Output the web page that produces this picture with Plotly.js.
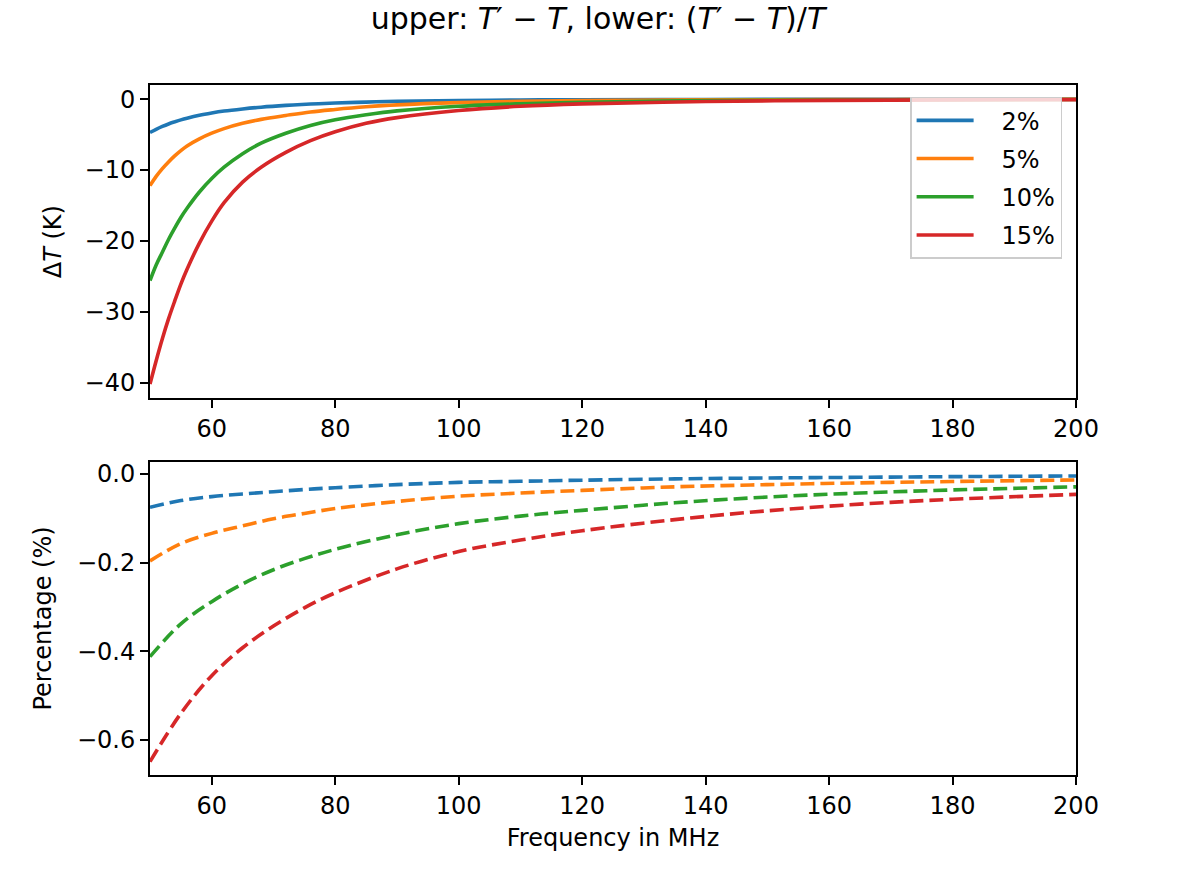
<!DOCTYPE html>
<html>
<head>
<meta charset="utf-8">
<script src="https://cdn.plot.ly/plotly-3.0.1.min.js"></script>
<style>
  body { margin: 0; background: #fff; }
  #chart { width: 1196px; height: 874px; }
</style>
</head>
<body>
<div id="chart"></div>
<script>
// values
let labels = ['2%', '5%', '10%', '15%'];
let colors = ['#1f77b4', '#ff7f0e', '#2ca02c', '#d62728'];

// upper panel: T' - T in K
let freqUpper = [50, 51, 52, 53, 54, 55, 56, 58, 60, 62, 65, 68, 72, 76, 80, 85, 90, 100, 110, 120, 140, 160, 180, 200];
let dT2  = [-4.7, -4.25, -3.85, -3.5, -3.2, -2.92, -2.68, -2.27, -1.95, -1.68, -1.38, -1.13, -0.88, -0.69, -0.55, -0.41, -0.31, -0.18, -0.12, -0.08, -0.04, -0.02, -0.012, -0.008];
let dT5  = [-12.2, -10.9, -9.8, -8.85, -8.0, -7.25, -6.6, -5.6, -4.8, -4.15, -3.4, -2.85, -2.3, -1.8, -1.45, -1.08, -0.8, -0.48, -0.31, -0.2, -0.1, -0.055, -0.03, -0.02];
let dT10 = [-25.6, -23.4, -21.6, -19.8, -18.2, -16.7, -15.4, -13.1, -11.2, -9.6, -7.7, -6.2, -4.8, -3.7, -2.9, -2.2, -1.65, -1.0, -0.65, -0.43, -0.21, -0.11, -0.065, -0.04];
let dT15 = [-40.2, -36.9, -33.8, -31.0, -28.5, -26.1, -24.0, -20.3, -17.2, -14.6, -11.7, -9.6, -7.5, -5.85, -4.6, -3.4, -2.6, -1.6, -1.0, -0.67, -0.33, -0.17, -0.1, -0.06];

// lower panel: (T' - T)/T
let freqLower = [50, 55, 60, 65, 70, 75, 80, 90, 100, 110, 120, 135, 150, 165, 180, 200];
let pct2  = [-0.075, -0.060, -0.051, -0.045, -0.040, -0.035, -0.031, -0.024, -0.019, -0.0165, -0.014, -0.011, -0.009, -0.0075, -0.006, -0.0045];
let pct5  = [-0.196, -0.157, -0.134, -0.117, -0.101, -0.089, -0.078, -0.062, -0.050, -0.043, -0.037, -0.029, -0.024, -0.020, -0.017, -0.0135];
let pct10 = [-0.412, -0.338, -0.288, -0.248, -0.216, -0.191, -0.170, -0.137, -0.112, -0.095, -0.082, -0.065, -0.052, -0.043, -0.036, -0.029];
let pct15 = [-0.649, -0.540, -0.455, -0.392, -0.343, -0.302, -0.268, -0.214, -0.175, -0.149, -0.128, -0.103, -0.083, -0.068, -0.057, -0.046];

let upperSeries = [dT2, dT5, dT10, dT15];
let lowerSeries = [pct2, pct5, pct10, pct15];

let traces = [];
upperSeries.forEach((ys, i) => {
    traces.push({
        type: 'scatter', mode: 'lines',
        x: freqUpper, y: ys, name: '\u00a0\u00a0\u00a0' + labels[i],
        legendgroup: 'g' + i,
        line: {color: colors[i], width: 3.6, shape: 'spline', smoothing: 1},
        xaxis: 'x', yaxis: 'y'
    });
});
lowerSeries.forEach((ys, i) => {
    traces.push({
        type: 'scatter', mode: 'lines',
        x: freqLower, y: ys, name: labels[i],
        showlegend: false,
        line: {color: colors[i], width: 3.6, shape: 'spline', smoothing: 1, dash: '14px,6px'},
        xaxis: 'x2', yaxis: 'y2'
    });
});

let axisStyle = {
    showline: true, linecolor: 'black', linewidth: 2, mirror: true,
    ticks: 'outside', ticklen: 8, tickwidth: 2, tickcolor: 'black',
    showgrid: false, zeroline: false,
    tickfont: {size: 24, color: 'black'}
};

let layout = {
    width: 1196, height: 874,
    paper_bgcolor: 'white', plot_bgcolor: 'white',
    font: {family: 'DejaVu Sans', color: 'black', size: 24},
    margin: {l: 150, r: 120, t: 85, b: 99},
    showlegend: true,
    title: {
        text: 'upper: <i>T</i>′ − <i>T</i>, lower: (<i>T</i>′ − <i>T</i>)/<i>T</i>',
        font: {size: 30}, x: 0.5, xref: 'container', xanchor: 'center',
        y: 0.979, yanchor: 'middle'
    },
    xaxis: Object.assign({}, axisStyle, {
        domain: [0, 1], range: [50, 200], dtick: 20, tick0: 0, anchor: 'y'
    }),
    yaxis: Object.assign({}, axisStyle, {
        domain: [0.546, 1], range: [-42.2, 2.0], dtick: 10, tick0: 0, anchor: 'x',
        title: {text: 'Δ<i>T</i> (K)', font: {size: 24}, standoff: 16}
    }),
    xaxis2: Object.assign({}, axisStyle, {
        domain: [0, 1], range: [50, 200], dtick: 20, tick0: 0, anchor: 'y2',
        title: {text: 'Frequency in MHz', font: {size: 24}, standoff: 10}
    }),
    yaxis2: Object.assign({}, axisStyle, {
        domain: [0, 0.4536], range: [-0.679, 0.027], dtick: 0.2, tick0: 0,
        tickformat: '.1f', anchor: 'x2',
        title: {text: 'Percentage (%)', font: {size: 24}, standoff: 19}
    }),
    legend: {
        x: 0.985, y: 0.983, xanchor: 'right', yanchor: 'top',
        xref: 'paper', yref: 'paper',
        bgcolor: 'rgba(255,255,255,0.8)', bordercolor: '#cccccc', borderwidth: 1.5,
        font: {size: 24}, itemwidth: 57, tracegroupgap: 4
    }
};

Plotly.newPlot('chart', traces, layout, {staticPlot: true, displayModeBar: false});
</script>
</body>
</html>
